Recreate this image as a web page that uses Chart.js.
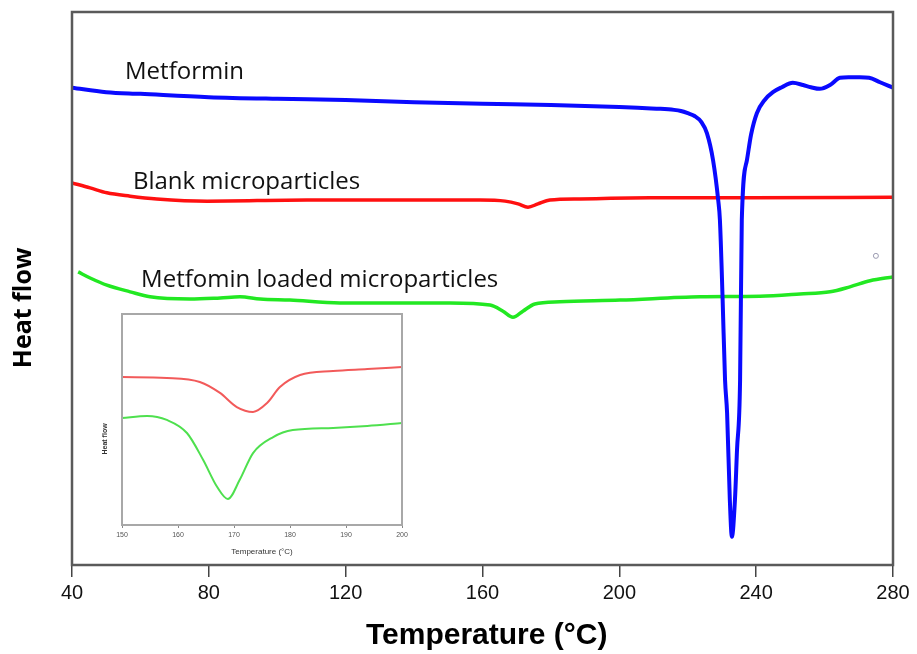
<!DOCTYPE html>
<html><head><meta charset="utf-8">
<script src="https://cdn.jsdelivr.net/npm/chart.js@4.4.0/dist/chart.umd.min.js"></script>
<style>
html,body{margin:0;padding:0;background:#fff;}
#wrap{position:relative;width:917px;height:654px;overflow:hidden;}
#main{position:absolute;left:0;top:0;}
#insetBox{position:absolute;left:100px;top:300px;width:320px;height:262px;}
</style>
</head><body>
<div id="wrap">
<canvas id="main" width="917" height="654"></canvas>
<div id="insetBox"><canvas id="inset" width="320" height="262"></canvas></div>
</div>
<script>
// ---- main chart data (temperature °C, heat flow in arbitrary units) ----
const xTicks = [40, 80, 120, 160, 200, 240, 280];
const seriesNames = ['Metformin', 'Blank microparticles', 'Metfomin loaded microparticles'];

const metforminT  = [40,50,60,80,100,120,140,160,180,200,208,212,216,218,220,222,224,225.6,227.4,228.9,229.4,230.2,230.9,231.5,232.3,232.9,233.8,234.4,235.3,235.8,237.3,238.5,240.2,242.5,244.9,247.5,250.7,253.7,256,258.6,261.6,264.5,267,270.3,273,276.2,280];
const metforminHF = [86.3,85.5,85.2,84.6,84.3,84.1,83.7,83.4,83.2,82.8,82.6,82.5,82.3,82.1,81.7,81.2,80.1,78.1,73.2,66.0,62.4,47.9,33.5,27.5,11.8,5.1,11.8,20.8,33.5,62.4,73.2,77.8,81.7,84.1,85.5,86.4,87.2,86.8,86.4,86.1,86.8,88.1,88.2,88.2,88.1,87.3,86.3];

const blankT  = [40,45.3,50.2,57,64.8,79.5,108.7,135.9,159.3,166.6,170.4,173.3,176.2,179.7,188.5,209,238.2,280];
const blankHF = [69.1,68.2,67.3,66.7,66.2,65.8,66.0,66.0,66.0,65.8,65.3,64.7,65.3,66.0,66.2,66.4,66.4,66.5];

const loadedT  = [41.8,45.3,50.2,57,62.8,74.5,83.3,89.1,95,103.7,118.3,135.9,150.5,162.2,166,168.9,171.8,175.3,182.6,200.2,223.6,241.1,252.8,261.6,267.4,273.3,280];
const loadedHF = [53.0,51.9,50.6,49.4,48.5,48.1,48.3,48.5,48.1,47.9,47.4,47.4,47.4,47.0,45.9,44.8,45.9,47.2,47.6,47.9,48.5,48.6,49.0,49.4,50.3,51.4,52.1];

const markerT  = [275];
const markerHF = [55.9];

// ---- inset data (150–200 °C zoom) ----
const insetTicks = [150, 160, 170, 180, 190, 200];
const insetBlankT  = [150,158,163.9,167.5,170.5,173.4,175.9,178.2,181.8,187.7,193.8,200];
const insetBlankHF = [70.1,69.7,67.8,62.6,55.9,53.6,57.8,65.4,71.1,73.0,73.9,74.9];
const insetLoadedT  = [150,154.5,158,161.6,164.5,167,168.9,171,173.4,177,180.5,187.7,193.8,200];
const insetLoadedHF = [50.7,51.7,49.8,43.6,30.8,18.0,12.3,21.3,34.1,41.7,45.0,46.0,46.9,48.3];

const pts = (xs, ys) => xs.map((v, i) => ({x: v, y: ys[i]}));

const framePlugin = {
  id: 'frame',
  afterDraw(chart, args, opts) {
    const {ctx, chartArea: a} = chart;
    ctx.save();
    ctx.strokeStyle = opts.color;
    ctx.lineWidth = opts.width;
    ctx.strokeRect(a.left, a.top, a.right - a.left, a.bottom - a.top);
    ctx.restore();
  }
};

const curveLabels = {
  id: 'curveLabels',
  afterDatasetsDraw(chart, args, opts) {
    if (!opts.items) return;
    const {ctx, scales: {x, y}} = chart;
    ctx.save();
    ctx.font = opts.font;
    ctx.fillStyle = opts.color;
    ctx.textAlign = 'left';
    ctx.textBaseline = 'middle';
    opts.items.forEach(it => ctx.fillText(it.text, x.getPixelForValue(it.x), y.getPixelForValue(it.y)));
    ctx.restore();
  }
};

new Chart(document.getElementById('main'), {
  type: 'line',
  data: {
    datasets: [
      {label: seriesNames[0], data: pts(metforminT, metforminHF), borderColor: '#0a0aff', borderWidth: 4, pointRadius: 0, cubicInterpolationMode: 'monotone', fill: false},
      {label: seriesNames[1], data: pts(blankT, blankHF), borderColor: '#ff1010', borderWidth: 3.5, pointRadius: 0, cubicInterpolationMode: 'monotone', fill: false},
      {label: seriesNames[2], data: pts(loadedT, loadedHF), borderColor: '#22e822', borderWidth: 3.5, pointRadius: 0, cubicInterpolationMode: 'monotone', fill: false},
      {label: 'marker', data: pts(markerT, markerHF), showLine: false, pointRadius: 2.5, pointBorderColor: '#9a9ab0', pointBackgroundColor: '#fff', pointBorderWidth: 1}
    ]
  },
  options: {
    responsive: false,
    animation: false,
    devicePixelRatio: 1,
    layout: {padding: {left: 0, top: 12, right: 24, bottom: 0}},
    plugins: {
      legend: {display: false},
      tooltip: {enabled: false},
      frame: {color: '#5a5a5a', width: 2.5},
      curveLabels: {
        font: '24px "Open Sans"',
        color: '#111',
        items: [
          {text: seriesNames[0], x: 55.5, y: 89.2},
          {text: seriesNames[1], x: 57.8, y: 69.3},
          {text: seriesNames[2], x: 60.2, y: 51.5}
        ]
      }
    },
    scales: {
      x: {
        type: 'linear', min: 40, max: 280,
        afterFit: s => { s.height = 89; },
        afterBuildTicks: s => { s.ticks = xTicks.map(v => ({value: v})); },
        grid: {display: true, drawOnChartArea: false, drawTicks: true, tickLength: 12, color: '#444', lineWidth: 1.5},
        border: {display: false},
        ticks: {color: '#111', font: {family: '"Liberation Sans", Arial', size: 20}, padding: 4, maxRotation: 0},
        title: {display: true, text: '\u00a0Temperature (°C)', color: '#000', font: {family: '"Liberation Sans", Arial', size: 30, weight: 'bold'}, padding: {top: 0, bottom: 0}}
      },
      y: {
        min: 0, max: 100,
        afterFit: s => { s.width = 72; },
        grid: {display: false},
        border: {display: false},
        ticks: {display: false},
        title: {display: true, text: 'Heat flow\u00a0\u00a0\u00a0\u00a0\u00a0\u00a0', color: '#000', font: {family: '"Open Sans", Arial', size: 25, weight: 'bold'}, padding: {top: 9, bottom: 0}}
      }
    }
  },
  plugins: [framePlugin, curveLabels]
});

new Chart(document.getElementById('inset'), {
  type: 'line',
  data: {
    datasets: [
      {label: seriesNames[1], data: pts(insetBlankT, insetBlankHF), borderColor: '#f25a5a', borderWidth: 2, pointRadius: 0, cubicInterpolationMode: 'monotone', fill: false},
      {label: seriesNames[2], data: pts(insetLoadedT, insetLoadedHF), borderColor: '#4ee04e', borderWidth: 2, pointRadius: 0, cubicInterpolationMode: 'monotone', fill: false}
    ]
  },
  options: {
    responsive: false,
    animation: false,
    devicePixelRatio: 1,
    layout: {padding: {left: 0, top: 14, right: 18, bottom: 0}},
    plugins: {
      legend: {display: false},
      tooltip: {enabled: false},
      frame: {color: '#a8a8a8', width: 2}
    },
    scales: {
      x: {
        type: 'linear', min: 150, max: 200,
        afterFit: s => { s.height = 37; },
        afterBuildTicks: s => { s.ticks = insetTicks.map(v => ({value: v})); },
        grid: {display: true, drawOnChartArea: false, drawTicks: true, tickLength: 3, color: '#888', lineWidth: 1},
        border: {display: false},
        ticks: {color: '#555', font: {family: '"Liberation Sans", Arial', size: 7}, padding: 3, maxRotation: 0},
        title: {display: true, text: 'Temperature (°C)', color: '#333', font: {family: '"Liberation Sans", Arial', size: 8}, padding: {top: 0, bottom: 5}}
      },
      y: {
        min: 0, max: 100,
        afterFit: s => { s.width = 22; },
        grid: {display: false},
        border: {display: false},
        ticks: {display: false},
        title: {display: true, text: 'Heat flow' + '\u00a0'.repeat(20), color: '#333', font: {family: '"Liberation Sans", Arial', size: 7, weight: 'bold'}, padding: {top: 1, bottom: 0}}
      }
    }
  },
  plugins: [framePlugin]
});
</script>
</body></html>
